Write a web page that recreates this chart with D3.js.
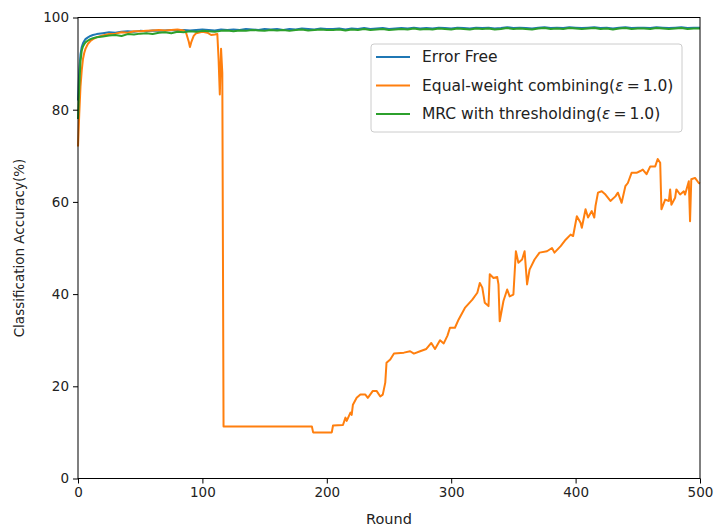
<!DOCTYPE html>
<html>
<head>
<meta charset="utf-8">
<script src="https://cdn.jsdelivr.net/npm/d3@7"></script>
<style>
  body { margin: 0; background: #fff; }
  svg { font-family: "DejaVu Sans", sans-serif; }
</style>
</head>
<body>
<svg id="chart" width="714" height="526"></svg>
<script>
// ---- data ----
const smoothRounds = [0, 1, 2, 3, 4, 5, 6, 8, 10, 12, 15, 20,
  25, 30, 35, 40, 45, 50, 55, 60, 65, 70, 75, 80, 85, 90, 95, 100,
  105, 110, 115, 120, 125, 130, 135, 140, 145, 150, 155, 160, 165, 170, 175, 180, 185, 190, 195, 200,
  205, 210, 215, 220, 225, 230, 235, 240, 245, 250, 255, 260, 265, 270, 275, 280, 285, 290, 295, 300,
  305, 310, 315, 320, 325, 330, 335, 340, 345, 350, 355, 360, 365, 370, 375, 380, 385, 390, 395, 400,
  405, 410, 415, 420, 425, 430, 435, 440, 445, 450, 455, 460, 465, 470, 475, 480, 485, 490, 495, 500];

const errorFree = [82, 88.5, 92, 93.6, 94.4, 94.9, 95.3, 95.7, 96, 96.2, 96.4, 96.6,
  96.8, 96.7, 96.9, 97.0, 96.9, 97.1, 97.0, 97.2, 97.1, 97.2, 97.3, 97.1, 97.3, 97.2, 97.3, 97.4,
  97.3, 97.2, 97.4, 97.3, 97.4, 97.3, 97.5, 97.4, 97.3, 97.5, 97.4, 97.5, 97.3, 97.5, 97.4, 97.6, 97.5, 97.4, 97.6, 97.5,
  97.5, 97.6, 97.4, 97.6, 97.5, 97.7, 97.5, 97.6, 97.7, 97.5, 97.6, 97.7, 97.6, 97.8, 97.6, 97.7, 97.6, 97.8, 97.7, 97.6,
  97.8, 97.7, 97.6, 97.8, 97.7, 97.8, 97.6, 97.7, 97.9, 97.7, 97.8, 97.7, 97.6, 97.8, 97.9, 97.7, 97.8, 97.7, 97.9, 97.8,
  97.7, 97.8, 97.9, 97.7, 97.8, 97.6, 97.8, 97.9, 97.7, 97.8, 97.8, 97.7, 97.9, 97.8, 97.7, 97.8, 97.9, 97.7, 97.8, 97.8];

const mrcThreshold = [78, 85, 90.5, 92.8, 93.7, 94.2, 94.6, 95, 95.3, 95.5, 95.7, 95.9,
  96.1, 96.2, 96.0, 96.4, 96.3, 96.5, 96.6, 96.4, 96.7, 96.8, 96.6, 96.9, 96.8, 97.0, 96.9, 97.1,
  97.0, 96.9, 97.1, 97.2, 97.0, 97.2, 97.1, 97.3, 97.2, 97.1, 97.3, 97.2, 97.3, 97.1, 97.3, 97.4, 97.2, 97.3, 97.4, 97.3,
  97.3, 97.4, 97.2, 97.4, 97.3, 97.5, 97.3, 97.4, 97.5, 97.3, 97.4, 97.5, 97.4, 97.6, 97.4, 97.5, 97.4, 97.6, 97.5, 97.4,
  97.6, 97.5, 97.4, 97.6, 97.5, 97.6, 97.4, 97.5, 97.7, 97.5, 97.6, 97.5, 97.4, 97.6, 97.7, 97.5, 97.6, 97.5, 97.7, 97.6,
  97.5, 97.6, 97.7, 97.5, 97.6, 97.4, 97.6, 97.7, 97.5, 97.6, 97.6, 97.5, 97.7, 97.6, 97.5, 97.6, 97.7, 97.5, 97.6, 97.6];

const equalRounds = [0, 1, 2, 3, 4, 5, 6, 8, 10, 12, 15, 20, 25, 30, 35, 40, 45, 50, 55, 60, 65, 70, 75, 80, 85,
  87, 89, 90, 91, 93, 95, 100, 104, 107, 110, 112, 113, 114, 115, 116, 117, 188, 189, 204, 205, 213,
  215, 216, 219, 220, 221, 224, 227, 231, 233, 237, 240, 243, 245, 247, 248, 251, 254, 262, 267, 270, 275,
  280, 284, 287, 291, 294, 297, 299, 303, 306, 311, 317, 321, 323, 325, 327, 330, 331, 334, 337, 338, 339,
  342, 345, 347, 350, 352, 354, 357, 359, 361, 363, 367, 371, 377, 381, 383, 388, 392, 396, 398, 401, 404,
  405, 408, 410, 413, 415, 416, 418, 421, 424, 428, 432, 434, 437, 440, 442, 445, 449, 452, 454, 457, 460,
  464, 466, 468, 469, 472, 475, 476, 477, 480, 481, 484, 487, 488, 491, 492, 493, 496, 499, 500];

const equalWeight = [72, 79, 85, 88.5, 91, 92.3, 93.2, 94.3, 94.9, 95.3, 95.7, 96.1, 96.4, 96.5, 96.8, 96.7, 97.0, 97.0, 97.1, 97.2, 97.3, 97.2, 97.3, 97.4, 97.2,
  96.6, 94.8, 93.6, 94.6, 96.0, 96.6, 96.9, 96.7, 96.2, 96.3, 96.4, 91, 83.3, 93.2, 88, 11.3, 11.3, 10.0, 10.0, 11.5, 11.6,
  13.2, 12.5, 14.3, 13.8, 16, 17.5, 18.2, 18.2, 17.5, 19, 19, 17.8, 18.2, 20.8, 25.1, 25.8, 27.1, 27.3, 27.6, 27.1, 27.6,
  28.1, 29.4, 28.1, 30, 29.3, 31, 32.7, 32.7, 34.5, 37, 38.8, 40.3, 42.4, 41.4, 38.1, 37.4, 44.3, 43.5, 43.7, 42.1, 34.1,
  38.5, 41, 39.5, 39.9, 49.3, 46.8, 47.5, 49.3, 42.1, 45.3, 47.5, 49, 49.3, 50, 49, 50.4, 51.8, 52.9, 52.6, 56.9, 55.5,
  54.4, 58.4, 56.6, 58, 56.6, 59.1, 62, 62.3, 61.6, 60.2, 61.2, 62, 59.8, 63.4, 64.1, 66.3, 66.3, 66.7, 67, 66, 67.7,
  67.7, 69.3, 68.5, 58.4, 60.5, 60.2, 62.7, 59.4, 60.9, 62.7, 61.6, 62.3, 61.6, 64.5, 55.8, 64.9, 65.2, 64.1, 64];

const xTicks = [0, 100, 200, 300, 400, 500];
const yTicks = [0, 20, 40, 60, 80, 100];

const colors = {
  errorFree: "#1f77b4",
  equal: "#ff7f0e",
  mrc: "#2ca02c"
};

// ---- layout ----
const svg = d3.select("#chart");
const margin = { top: 17.5, right: 14, bottom: 47.5, left: 78 };
const width = 714 - margin.left - margin.right;
const height = 526 - margin.top - margin.bottom;

const g = svg.append("g")
  .attr("transform", `translate(${margin.left},${margin.top})`);

const x = d3.scaleLinear().domain([0, 500]).range([0, width]);
const y = d3.scaleLinear().domain([0, 100]).range([height, 0]);

const line = d3.line()
  .x(d => x(d[0]))
  .y(d => y(d[1]));

const series = [
  { key: "errorFree", pts: d3.zip(smoothRounds, errorFree) },
  { key: "equal", pts: d3.zip(equalRounds, equalWeight) },
  { key: "mrc", pts: d3.zip(smoothRounds, mrcThreshold) }
];

g.selectAll("path.series")
  .data(series)
  .enter()
  .append("path")
  .attr("class", "series")
  .attr("fill", "none")
  .attr("stroke", d => colors[d.key])
  .attr("stroke-width", 2)
  .attr("stroke-linejoin", "round")
  .attr("d", d => line(d.pts));

// axes
const xAxis = g.append("g")
  .attr("transform", `translate(0,${height})`)
  .call(d3.axisBottom(x).tickValues(xTicks).tickSize(5).tickPadding(4));

const yAxis = g.append("g")
  .call(d3.axisLeft(y).tickValues(yTicks).tickSize(5).tickPadding(4));

[xAxis, yAxis].forEach(a => {
  a.select(".domain").remove();
  a.selectAll("line").attr("stroke", "#000").attr("stroke-width", 1);
  a.selectAll("text")
    .attr("fill", "#222")
    .style("font-size", "13.5px")
    .style("font-family", "DejaVu Sans");
});

// frame
g.append("rect")
  .attr("width", width)
  .attr("height", height)
  .attr("fill", "none")
  .attr("stroke", "#000")
  .attr("stroke-width", 1);

// axis labels
svg.append("text")
  .attr("x", margin.left + width / 2)
  .attr("y", 524)
  .attr("text-anchor", "middle")
  .attr("fill", "#222")
  .style("font-size", "14.5px")
  .text("Round");

svg.append("text")
  .attr("transform", `translate(24,${margin.top + height / 2}) rotate(-90)`)
  .attr("text-anchor", "middle")
  .attr("fill", "#222")
  .style("font-size", "13.5px")
  .text("Classification Accuracy(%)");

// legend
const legendItems = [
  { key: "errorFree", label: "Error Free", eps: false },
  { key: "equal", label: "Equal-weight combining(", eps: true },
  { key: "mrc", label: "MRC with thresholding(", eps: true }
];

const legend = svg.append("g").attr("class", "legend");

legend.append("rect")
  .attr("x", 371)
  .attr("y", 44)
  .attr("width", 311)
  .attr("height", 88)
  .attr("rx", 3)
  .attr("fill", "#fff")
  .attr("fill-opacity", 0.8)
  .attr("stroke", "#ccc");

const rowY = [57, 85.5, 114];

const rows = legend.selectAll("g.row")
  .data(legendItems)
  .enter()
  .append("g")
  .attr("class", "row")
  .attr("transform", (d, i) => `translate(0,${rowY[i]})`);

rows.append("line")
  .attr("x1", 376)
  .attr("x2", 410)
  .attr("stroke", d => colors[d.key])
  .attr("stroke-width", 2);

const labels = rows.append("text")
  .attr("x", 422)
  .attr("dy", "0.35em")
  .attr("fill", "#222")
  .style("font-size", "15.5px");

labels.append("tspan").text(d => d.label);
labels.filter(d => d.eps).append("tspan")
  .style("font-style", "italic")
  .text("\u03b5");
labels.filter(d => d.eps).append("tspan")
  .text("\u2009=\u20091.0)");
</script>
</body>
</html>
